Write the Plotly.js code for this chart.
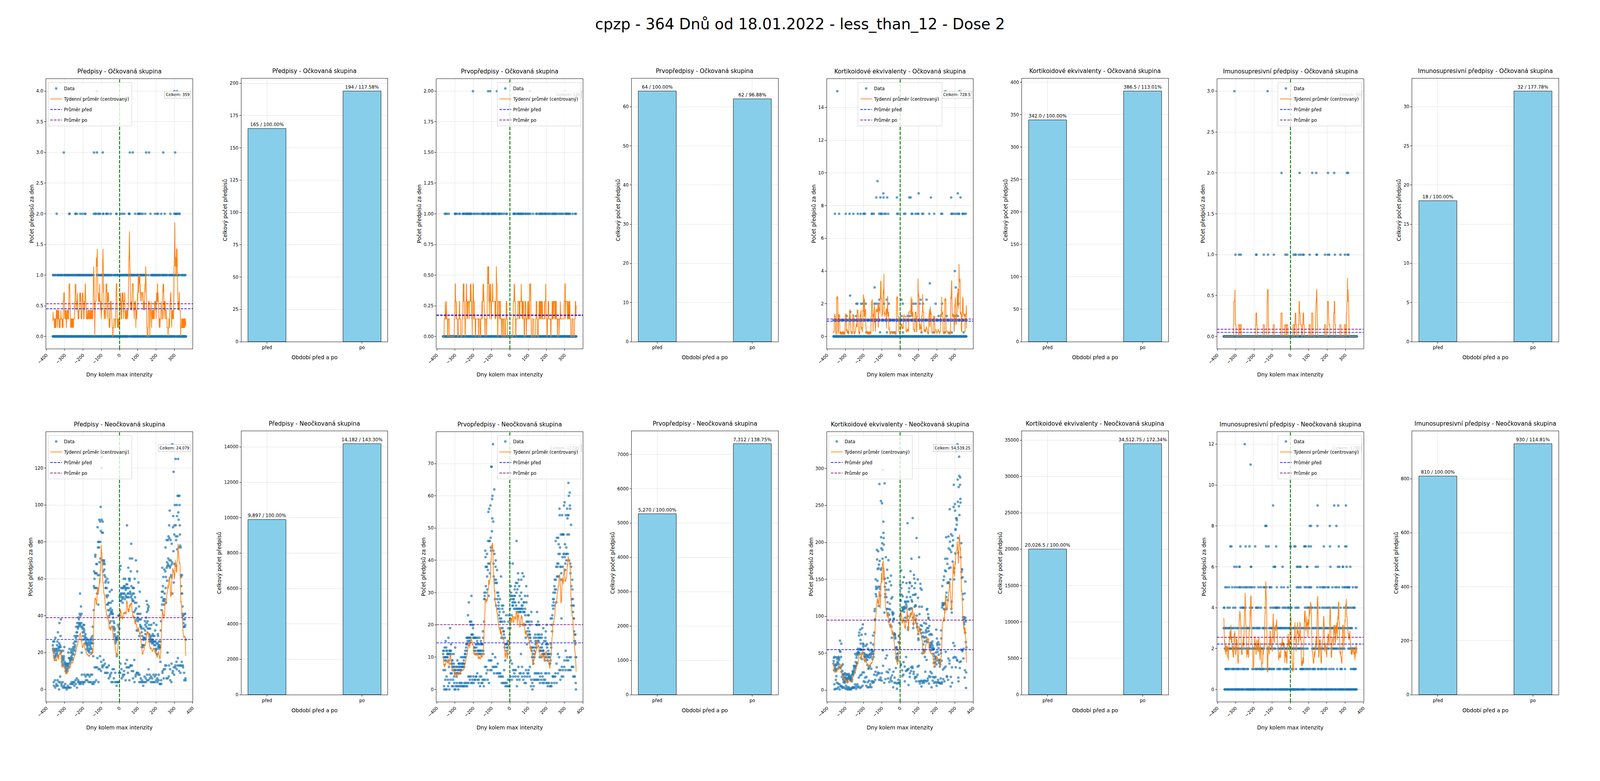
<!DOCTYPE html>
<html>
<head>
<meta charset="utf-8">
<script src="https://cdn.plot.ly/plotly-3.0.1.min.js"></script>
<style>html,body{margin:0;padding:0;background:#fff;overflow:hidden}</style>
</head>
<body>
<div id="chart"></div>
<script>
// days relative to the max intensity day; "před" = day < 0, "po" = day >= 0
const firstDay = -365;
const lastDay = 363;

const suptitle = 'cpzp - 364 Dnů od 18.01.2022 - less_than_12 - Dose 2';
const metricNames = ['Předpisy', 'Prvopředpisy', 'Kortikoidové ekvivalenty', 'Imunosupresivní předpisy'];
const groupNames = ['Očkovaná skupina', 'Neočkovaná skupina'];
const periodLabels = ['před', 'po'];

// bar totals [před, po] per metric
const vacTotals = [[165, 194], [64, 62], [342.0, 386.5], [18, 32]];
const unvacTotals = [[9897, 14182], [5270, 7312], [20026.5, 34512.75], [810, 930]];
const floatMetric = [false, false, true, false];

// vaccinated group: daily values are sparse -> value levels and the days they occur on
const rxVacLevels = [1, 2, 3, 4];
const rxVacDays = [
  [-364,-361,-357,-352,-348,-340,-336,-334,-330,-324,-321,-318,-314,-308,-302,-300,-297,-295,-291,-287,
   -285,-283,-279,-276,-272,-268,-264,-260,-256,-252,-248,-245,-239,-237,-231,-230,-227,-223,-221,-219,
   -216,-213,-210,-206,-202,-200,-198,-195,-191,-186,-184,-180,-177,-174,-170,-168,-166,-162,-159,-157,
   -154,-151,-149,-145,-143,-142,-123,-121,-119,-116,-111,-109,-104,-101,-99,-96,-94,-93,-88,-84,
   -81,-79,-77,-72,-69,-65,-62,-61,-57,-53,-49,-45,-41,-32,-28,-25,-19,-16,-12,-8,-4,
   2,4,8,11,14,17,20,22,27,29,31,35,38,40,43,45,48,50,53,55,57,59,61,63,65,67,69,71,74,76,
   78,81,84,89,93,95,97,101,103,106,111,112,114,116,119,121,123,125,128,130,132,134,136,138,141,142,144,147,159,171,
   175,179,180,184,186,188,192,196,199,201,204,208,211,213,217,221,225,231,235,238,240,243,248,252,254,256,261,269,273,277,
   280,281,285,289,291,294,297,301,303,307,310,311,317,320,323,330,338,342,347,352,357,360],
  [-344,-275,-274,-242,-240,-233,-215,-203,-190,-187,-141,-132,-130,-118,-112,-106,-90,-89,-73,-71,-63,-48,-18,-17,
   5,16,26,51,52,54,85,100,104,108,110,118,126,140,169,194,205,210,228,247,278,299,305,308,312,316,324,329],
  [-305,-140,-124,-92,56,72,145,161,239,304],
  [-125,300,314]
];

const firstVacLevels = [1, 2];
const firstVacDays = [
  [-356,-350,-344,-334,-301,-298,-296,-290,-278,-273,-258,-254,-252,-249,-240,-238,-235,-230,-227,-223,
   -219,-216,-213,-210,-198,-193,-183,-176,-167,-156,-150,-147,-144,-141,-132,-124,-121,-116,-113,-102,
   -97,-95,-92,-88,-85,-81,-77,-73,-62,-60,-55,-50,-42,-32,-20,-17,
   20,22,26,28,37,44,47,51,55,59,62,65,71,74,84,86,94,100,105,113,127,144,147,159,163,167,172,175,180,187,
   193,195,199,209,212,219,229,234,239,242,246,251,256,265,273,279,286,293,304,308,311,315,321,325,329,343,357,361],
  [-202,-119,-108,-71,111,300]
];

const kortVacLevels = [15, 9.5, 8.75, 8.5, 7.5, 4, 3.25, 3, 2.5, 2.25, 2, 1.5, 1.25, 1, 0.25];
const kortVacDays = [
  [-344,247,325],
  [-124],
  [-92,101,315],
  [-131,-108,-91,-71,-18,50,57,168,279,330],
  [-357,-334,-298,-277,-256,-232,-217,-201,-198,-192,-156,-153,-144,-115,-106,-104,-99,-86,-79,-66,-17,-11,
   21,28,62,67,84,95,100,120,126,159,186,224,230,280,283,290,301,311,319,323,341,344,351,359],
  [299],
  [162],
  [-140,304],
  [-274],
  [-114,-74,6,112,144],
  [-240,-234,-213,-203,-189,-141,-132,-119,-88,-63,14,73,85,107,125,194,229,318],
  [-273],
  [-293,-241,7,41,54,211,254,302,316],
  [-364,-360,-355,-350,-345,-340,-336,-330,-326,-320,-316,-311,-306,-301,-296,-290,-287,-282,-270,-266,
   -262,-258,-252,-248,-244,-238,-235,-229,-225,-221,-216,-211,-207,-204,-196,-190,-187,-181,-177,-173,
   -168,-164,-160,-150,-147,-138,-135,-128,-125,-120,-117,-112,-101,-96,-94,-83,-80,-76,-69,-60,
   -57,-52,-48,-45,-38,-34,-27,-22,-14,-7,-4,
   1,3,9,12,18,24,31,35,38,44,47,52,59,64,70,77,80,88,91,98,103,110,115,122,129,133,135,137,141,147,
   151,155,165,171,175,179,182,190,197,201,205,208,215,219,222,233,237,241,250,257,261,265,270,274,
   287,292,296,305,308,313,321,327,333,336,339,345,348,353,356,361,363],
  [-285,-185,-110,-72,-42,-31,15,117,184,245,282,347]
];

const imunoVacLevels = [1, 2, 3];
const imunoVacDays = [
  [-301,-281,-272,-188,-186,-146,-123,-91,-28,-18,17,26,29,46,57,69,72,105,142,145,189,204,212,243,273,298,312,317],
  [-49,50,119,141,205,239,309,315],
  [-307,-125]
];

// unvaccinated group: daily values from day -365 (Mon), one week per group of 7
const rxUnvac = [
  24,22,26,21,22,4,2, 20,26,18,21,17,5,1, 28,19,22,18,21,3,2, 22,20,24,19,26,5,2,
  31,21,18,23,22,4,0, 25,36,23,21,24,7,4, 29,23,38,20,21,3,2, 17,15,18,16,13,4,1,
  21,14,16,17,18,2,1, 23,13,15,12,14,3,1, 10,11,14,13,9,1,0, 12,14,13,10,11,2,1,
  14,20,13,17,12,1,1, 22,14,17,16,15,3,1, 16,20,17,21,18,4,3, 22,17,19,20,16,3,4,
  23,21,25,19,22,4,2, 29,23,26,24,21,5,3, 28,34,26,29,31,6,1, 31,36,29,34,33,4,5,
  39,34,36,38,35,4,3, 41,36,52,35,40,4,3, 45,34,36,41,20,8,4, 34,33,31,27,29,3,4,
  35,33,31,35,32,8,4, 29,28,25,27,30,7,5, 26,28,25,24,22,8,5, 25,23,27,21,24,8,4,
  22,26,21,25,20,7,4, 27,24,22,25,23,8,4, 26,28,22,20,25,8,3, 29,34,27,25,18,4,3,
  43,56,64,55,60,12,4, 63,72,73,63,55,12,5, 68,55,63,68,52,12,17, 88,62,77,80,46,4,11,
  80,77,92,69,62,11,18, 91,80,71,99,86,10,15, 120,92,126,85,70,13,12, 91,85,70,64,68,16,13,
  69,70,65,62,68,14,9, 61,58,55,55,59,9,12, 51,55,50,46,60,12,9, 46,51,43,58,47,6,13,
  47,40,43,36,53,7,8, 41,44,37,47,42,9,4, 54,42,43,41,48,11,4, 41,39,33,37,34,6,11,
  36,32,30,29,33,4,9, 25,27,28,26,28,4,2, 18,19,27,28,29,4,4, 35,31,40,40,34,4,9,
  33,40,50,65,48,9,14, 67,51,52,48,55,11,6, 52,50,49,55,47,7,8, 55,52,50,60,56,10,8,
  52,56,49,55,60,14,5, 54,51,55,50,57,12,16, 89,57,55,50,52,9,12, 66,52,55,50,60,12,5,
  59,60,71,53,52,13,13, 64,50,79,56,51,10,13, 71,49,48,52,55,6,10, 55,48,55,52,42,16,4,
  60,47,50,43,37,7,8, 70,44,47,38,32,9,9, 64,41,39,32,37,9,8, 58,41,38,45,29,4,8,
  53,38,35,41,34,6,4, 38,34,33,31,23,5,4, 29,24,23,24,27,2,4, 33,28,28,27,24,7,4,
  37,32,35,30,28,6,4, 39,34,48,36,42,8,5, 46,37,33,43,44,5,11, 45,33,35,30,26,8,6,
  29,33,28,27,26,4,7, 35,29,27,26,25,6,4, 27,30,26,25,29,8,4, 36,26,24,29,26,7,4,
  32,24,22,26,21,8,5, 35,25,22,19,19,6,4, 25,30,29,23,24,5,8, 26,22,24,23,23,3,3,
  23,15,26,32,37,5,3, 43,50,53,46,66,9,10, 53,56,48,61,49,6,11, 46,48,65,52,49,11,13,
  64,77,55,61,47,13,6, 81,66,69,59,67,20,6, 81,68,71,83,67,7,13, 89,82,70,97,66,11,5,
  67,81,70,61,62,4,14, 79,68,69,133,52,9,10, 88,94,75,118,58,12,8, 84,89,68,100,68,12,13,
  125,89,83,81,67,15,11, 100,94,76,83,105,13,17, 125,96,105,92,77,10,13, 105,100,89,84,78,13,9,
  77,62,61,56,52,13,15, 62,52,41,45,40,13,12, 40,36,34,38,34,9,5, 41,38,34,41,35,6,5,
  27
];

const firstUnvac = [
  11,12,6,10,12,1,0, 10,13,9,10,6,3,0, 15,10,9,13,12,4,0, 12,10,11,10,11,3,1,
  11,16,9,11,7,2,0, 12,12,11,19,12,3,5, 12,14,8,11,9,5,1, 8,7,9,6,7,3,1,
  7,11,8,6,4,2,0, 7,5,6,13,5,0,1, 6,5,7,5,4,2,1, 7,9,5,5,6,1,0,
  6,8,7,8,5,2,1, 7,6,8,5,6,2,1, 10,7,8,6,7,2,1, 8,10,7,7,8,1,1,
  8,9,10,7,8,2,1, 11,10,12,11,10,2,1, 13,14,16,14,12,2,1, 16,15,16,23,14,4,2,
  16,27,15,16,15,4,3, 21,16,21,16,20,4,2, 21,29,17,17,17,2,3, 20,20,17,19,16,4,2,
  16,12,13,16,13,3,3, 16,16,12,14,11,4,4, 13,16,14,11,15,5,3, 16,12,14,12,11,2,3,
  12,14,12,16,11,4,1, 12,11,14,12,15,4,2, 14,14,12,11,14,2,3, 14,18,16,12,11,3,1,
  21,28,30,29,28,7,3, 43,41,38,32,30,7,5, 38,38,42,35,31,6,3, 37,46,39,55,29,9,2,
  56,46,39,46,36,6,9, 57,47,44,43,69,9,6, 69,49,59,53,60,11,7, 76,52,43,39,35,7,5,
  62,42,34,33,28,10,7, 38,40,34,26,33,7,5, 33,37,30,28,25,8,5, 30,29,27,26,23,4,5,
  25,24,22,28,21,5,4, 21,19,35,22,16,4,2, 26,21,25,19,16,4,2, 26,18,24,18,17,6,2,
  21,13,16,14,9,1,2, 14,14,23,14,12,2,1, 14,13,13,11,15,3,1, 19,21,23,14,15,1,3,
  17,39,25,22,19,4,9, 32,30,28,29,23,3,8, 29,26,27,39,26,6,4, 28,28,27,25,29,5,6,
  31,29,32,27,25,4,6, 33,26,30,46,25,1,3, 33,31,24,25,36,4,7, 34,27,25,32,24,3,5,
  29,25,24,25,24,5,11, 30,34,28,26,25,7,4, 36,26,25,24,20,3,5, 35,27,27,24,24,2,4,
  29,25,23,20,16,2,6, 32,27,21,18,14,4,5, 29,21,23,19,17,5,6, 23,21,18,17,16,4,7,
  17,20,16,13,15,1,3, 24,21,12,13,10,2,0, 13,11,10,9,8,3,1, 13,16,12,10,11,5,3,
  17,15,14,16,13,5,3, 13,20,15,24,20,3,5, 17,16,21,15,15,3,5, 20,17,16,12,10,2,4,
  16,13,12,12,10,3,5, 17,16,13,14,11,2,4, 12,12,19,12,11,3,2, 15,11,11,10,9,3,5,
  16,15,18,14,10,2,5, 20,14,13,11,9,2,1, 14,11,12,11,10,2,5, 11,10,8,8,8,1,1,
  9,22,11,14,13,1,2, 20,22,18,23,26,4,4, 28,25,30,27,28,4,2, 32,26,34,31,30,4,5,
  46,34,31,38,27,8,2, 47,35,39,38,35,11,5, 47,39,42,45,35,10,6, 56,54,42,44,38,3,6,
  48,34,38,36,22,4,7, 54,48,41,48,38,6,4, 48,48,42,42,57,7,9, 58,41,45,37,39,6,12,
  54,42,44,40,42,9,10, 56,48,53,54,42,6,9, 64,54,60,48,40,6,10, 61,57,56,39,36,6,10,
  51,38,32,26,28,7,7, 34,31,26,28,24,4,7, 22,26,22,18,15,4,4, 17,15,14,17,10,2,0,
  10
];

const kortUnvac = [
  36,39.5,44,27,34,8,1, 45,28,30,33,26,2,14, 35,44.5,19,28,34,10,2, 42,38,29,37,44,9,4,
  45,35,31,40.5,43,8,1, 53,67,30,52,31,6,5, 45,63,25,33,18,5,3, 26,21.5,35,19,15,4,11,
  14,22,16,17,21,3,10, 23,12,17,13,15,2,6, 20,13,16,22,13,4,1, 11,16,21,15,17,1,4,
  22,20,19,17,15,3,1, 16,14,19,13,15,1,2, 18.5,16,12,21,14,3,4, 25,22,26,23,21,4,3,
  33,29,32,26,24,4,8, 49,32,30,38,33,2,6, 44,47,50,36,37,8,4, 50,56,52,48.5,51,5,17,
  74,78,56,50,55,3,20, 82,68,63,44,55,4,21, 75,55,42,84,50,6,24, 89,63,59,62,55,12,24,
  50,46,49,45,45,11,17, 76,60,40,47,42,6,18, 48,62,45,41,34,4,11, 56,45,47,29,30,4,13,
  48,54,44,33,32,5,8, 50,48,64,45,29,4,12, 55,53,49,52,42,10,12, 74,62,49,45,53,11,21,
  78,107,95,110,96,14,25, 150,130,140,137,127,20,31, 190,177,138,148,164,22,24, 188,140,165,114,170,14,23,
  279,175,140,137,128,14,17, 163,256,207,192,165,13,23, 253,199,190,178,298,54,33, 228,213,206,197,151,10,105,
  280,151,140,126,130,15,43, 180,145,136,126,110,25,47, 163,110,119,152,104,16,24, 176,136,110,93,102,11,28,
  147,117,109,96,88,14,17, 155,142,124,86,71,12,20, 126,106,104,102,93,4,25, 104,97,96,75,77,10,17,
  76,75,72,70,57,10,30, 58,43,45,58,49,2,9, 55,45,42,40,50,14,10, 65,73,74,91,64,10,9,
  100,130,143,122,121,35,34, 162,138,107,129,112,27,19, 108,127,146,109,111,21,38, 112,153,106,110,113,32,12,
  120,98,119,111,93,26,45, 116,145,113,126,120,27,28, 226,100,82,85,120,7,29, 133,110,138,109,146,18,23,
  145,126,161,111,103,26,31, 178,122,141,110,120,32,30, 233,98,129,84,90,22,25, 156,151,138,113,129,16,18,
  145,115,130,114,96,12,18, 206,101,90,85,86,21,32, 150,125,76,70,68,12,33, 180,113,103,82,81,9,12,
  144,138,88,82,77,13,5, 136,113,87,72,50,10,12, 78,73,62,55,52,13,10, 91,71,66,54,45,13,25,
  78,72,81,90,67,12,41, 109,84,79,110,65,13,16, 103,84,98,97,80,9,19, 87,75,58,61,60,18,25,
  64,76,58,54,64,4,23, 75,62,56,66,60,13,18, 55,57,49,37,56,10,17, 46,32,42,37,38,11,18,
  45,51,43,82,35,6,10, 70,63,61,52,40,11,14, 65,57,48,41,37,10,10, 62,41,32,38,35,9,16,
  54,50,81,70,40,9,11, 112,141,118,115,115,28,15, 117,149,116,110,154,30,12, 118,109,162,178,117,32,52,
  161,207,126,132,110,19,18, 178,171,145,122,146,14,43, 208,192,145,165,146,36,40, 245,201,190,150,166,5,18,
  211,187,110,120,105,31,10, 209,195,174,196,203,64,44, 248,278,160,150,165,60,45, 252,243,185,217,218,31,44,
  324,233,232,224,230,41,40, 333,285,255,206,186,17,12, 275,249,316,290,237,38,30, 278,288,259,254,180,39,55,
  199,160,152,164,163,54,53, 153,130,123,99,96,43,56, 99,92,89,96,131,17,27, 78,147,98,93,65,3,24,
  58
];

const imunoUnvac = [
  3,4,3,4,3,0,0, 2,5,1,2,3,0,1, 3,2,1,5,2,0,0, 4,1,3,2,1,0,0,
  3,5,2,3,4,0,1, 2,7,3,2,3,0,0, 7,3,1,2,5,0,0, 3,2,1,4,1,0,1,
  2,3,6,2,5,0,0, 4,2,1,3,2,0,0, 6,2,5,1,3,0,0, 2,1,3,1,2,0,0,
  5,6,2,6,5,0,1, 7,4,3,5,2,0,0, 2,3,1,4,2,0,0, 4,5,1,3,4,0,1,
  3,2,4,12,5,0,1, 4,7,3,5,2,0,0, 3,2,1,3,5,0,0, 1,3,2,2,3,0,0,
  5,7,3,2,4,0,0, 11,5,6,6,4,0,0, 2,4,5,1,3,0,0, 1,2,0,2,3,0,0,
  5,3,2,1,7,0,0, 2,4,1,2,3,0,1, 4,3,4,2,1,0,0, 3,5,2,3,4,0,1,
  2,1,3,2,2,0,0, 5,4,1,2,1,0,0, 2,1,3,2,1,0,0, 3,5,1,2,3,0,0,
  5,3,4,5,8,1,0, 8,7,8,3,5,0,0, 2,1,0,1,2,0,0, 7,2,1,3,1,0,0,
  5,5,3,2,4,1,0, 2,3,5,3,1,0,0, 3,2,4,3,9,0,1, 6,3,1,2,4,0,0,
  6,6,3,2,4,0,0, 7,4,4,3,5,0,1, 4,3,4,2,3,0,0, 2,1,3,1,4,0,0,
  3,2,1,2,3,0,0, 5,2,3,3,2,0,0, 6,4,2,1,3,0,0, 5,3,4,1,2,0,0,
  3,2,1,4,3,0,0, 2,1,3,2,1,0,0, 4,5,3,2,4,0,1, 3,2,4,3,2,0,0,
  2,7,7,4,3,0,0, 4,2,1,3,2,0,0, 1,2,1,0,3,0,0, 3,2,7,3,2,0,0,
  7,4,3,2,1,0,0, 3,5,6,4,2,0,0, 6,5,2,4,3,0,0, 2,5,3,6,2,0,1,
  6,5,2,1,3,0,0, 2,1,1,3,2,0,0, 1,2,3,1,2,0,0, 7,3,5,7,4,1,0,
  3,7,2,5,3,0,1, 4,6,6,3,2,1,0, 5,4,3,7,4,0,1, 3,5,8,4,5,0,1,
  4,7,8,5,4,0,0, 3,2,4,3,1,0,0, 2,1,3,2,1,0,0, 3,4,2,1,2,0,0,
  6,3,4,2,3,0,0, 2,5,8,9,6,1,0, 3,2,1,3,2,0,0, 4,3,5,2,3,0,0,
  2,1,3,1,2,0,0, 5,4,2,3,2,0,1, 5,5,7,4,3,0,0, 2,3,1,5,3,0,0,
  4,2,1,3,2,0,0, 3,4,2,5,3,0,0, 5,2,4,3,1,0,0, 8,7,4,6,3,0,0,
  3,2,1,3,2,0,0, 5,3,4,3,2,0,1, 3,4,2,9,3,0,0, 2,3,5,4,2,0,0,
  3,8,2,5,3,1,0, 4,2,6,3,9,0,0, 7,5,3,6,2,0,0, 3,2,1,4,3,0,0,
  1,2,1,3,2,0,0, 5,6,6,3,2,0,0, 4,3,2,5,3,0,1, 7,5,3,4,9,0,0,
  7,6,5,4,3,0,0, 5,5,4,3,2,0,0, 5,3,5,2,4,0,0, 6,3,2,1,3,0,0,
  4,2,3,2,1,0,0, 5,2,4,1,2,0,0, 4,1,4,2,1,0,0, 2,5,1,3,2,0,0,
  5
];

// ---- helpers ----
const days = [];
for (let d = firstDay; d <= lastDay; d++) days.push(d);
const nBefore = days.filter(d => d < 0).length;
const nAfter = days.length - nBefore;

function fromLevels(levels, dayLists) {
  const v = days.map(() => 0);
  levels.forEach((lv, i) => dayLists[i].forEach(d => { v[d - firstDay] += lv; }));
  return v;
}

// centred 7-day mean, shorter window at the edges
function rolling7(v) {
  return v.map((_, i) => {
    let s = 0, n = 0;
    for (let j = i - 3; j <= i + 3; j++) {
      if (j >= 0 && j < v.length) { s += v[j]; n++; }
    }
    return s / n;
  });
}

function fmtValue(v, isFloat) {
  let dec = '';
  let n = v;
  if (isFloat) {
    const str = String(v);
    dec = str.includes('.') ? str.slice(str.indexOf('.')) : '.0';
    n = Math.trunc(v);
  }
  return String(n).replace(/\B(?=(\d{3})+(?!\d))/g, ',') + dec;
}

const series = [
  [fromLevels(rxVacLevels, rxVacDays), fromLevels(firstVacLevels, firstVacDays),
   fromLevels(kortVacLevels, kortVacDays), fromLevels(imunoVacLevels, imunoVacDays)],
  [rxUnvac, firstUnvac, kortUnvac, imunoUnvac]
];
const totals = [vacTotals, unvacTotals];

// ---- page size: design is 8000x2000, stretched to fill the window ----
const D_W = 8000, D_H = 2000;
const W = window.innerWidth || D_W;
const H = window.innerHeight || D_H;
const sx = W / D_W, sy = H / D_H;
const sf = Math.sqrt(sx * sy);
const px = v => v * sf;
const chartDiv = document.getElementById('chart');
chartDiv.style.width = W + 'px';
chartDiv.style.height = H + 'px';

// geometry in design pixels
const colLeft = [231, 1206.5, 2182.5, 3158, 4134, 5109.5, 6085.5, 7061];
const panelW = 732;
const scatterBox = [[202, 893], [1106, 1797]];
const barBox = [[201, 875], [1104, 1779]];
const legendSide = [['left', 'right', 'center', 'right'], ['left', 'right', 'left', 'right']];
const yStep = [[0.5, 0.25, 2, 0.5], [20, 10, 50, 2]];
const yFmt = [['.1f', '.2f', 'd', '.1f'], ['d', 'd', 'd', 'd']];
const barStep = [[25, 10, 50, 5], [2000, 1000, 5000, 200]];
const xRanges = [[-401.4, 399.4], [-401.4, 400.3]];

const font = 'DejaVu Sans, Arial, sans-serif';
const gridColor = 'rgba(170,170,170,0.35)';

const traces = [];
const layout = {
  width: W, height: H,
  margin: {l: 0, r: 0, t: 0, b: 0, pad: 0},
  paper_bgcolor: '#fff', plot_bgcolor: '#fff',
  font: {family: font, color: '#000', size: px(16)},
  hovermode: false,
  title: {text: suptitle, x: 0.5, xanchor: 'center', y: 1 - 61 / D_H, yanchor: 'middle',
          font: {size: px(54), family: font, color: '#000'}},
  annotations: [], shapes: []
};

function axisBase(domain) {
  return {
    domain: domain, showgrid: true, gridcolor: gridColor, gridwidth: px(1.3),
    showline: true, mirror: true, linecolor: '#000', linewidth: px(1.3),
    ticks: 'outside', ticklen: px(6), tickwidth: px(1.3), tickcolor: '#000',
    tickfont: {size: px(16), family: font}, zeroline: false
  };
}

for (let r = 0; r < 2; r++) {
  for (let m = 0; m < 4; m++) {
    const vals = series[r][m];
    const [tb, ta] = totals[r][m];
    const isF = floatMetric[m];
    const title = metricNames[m] + ' - ' + groupNames[r];

    // ---------- scatter panel ----------
    const cS = 2 * m;
    const k = r * 8 + cS + 1;
    const xa = k === 1 ? 'x' : 'x' + k;
    const ya = k === 1 ? 'y' : 'y' + k;
    const left = colLeft[cS];
    const [top, bot] = scatterBox[r];
    const xDom = [left / D_W, (left + panelW) / D_W];
    const yDom = [1 - bot / D_H, 1 - top / D_H];
    const lg = r * 4 + m + 1;
    const lgName = lg === 1 ? 'legend' : 'legend' + lg;

    const vMin = Math.min(...vals), vMax = Math.max(...vals);
    const pad = (vMax - vMin) * 0.05;
    const xr = xRanges[r];

    traces.push({
      x: days, y: vals, xaxis: xa, yaxis: ya, type: 'scatter', mode: 'markers',
      name: 'Data', legend: lgName, legendgroup: lgName + 'a',
      marker: {color: '#1f77b4', opacity: 0.7, size: px(9), line: {width: 0}}
    });
    traces.push({
      x: days, y: rolling7(vals), xaxis: xa, yaxis: ya, type: 'scatter', mode: 'lines',
      name: 'Týdenní průměr (centrovaný)', legend: lgName, legendgroup: lgName + 'b',
      line: {color: '#ff7f0e', width: px(2.5)}
    });
    const mb = tb / nBefore, ma = ta / nAfter;
    const meanDash = px(9) + 'px,' + px(4) + 'px';
    traces.push({
      x: xr, y: [mb, mb], xaxis: xa, yaxis: ya, type: 'scatter', mode: 'lines',
      name: 'Průměr před', legend: lgName, legendgroup: lgName + 'c',
      line: {color: 'blue', width: px(2.3), dash: meanDash}
    });
    traces.push({
      x: xr, y: [ma, ma], xaxis: xa, yaxis: ya, type: 'scatter', mode: 'lines',
      name: 'Průměr po', legend: lgName, legendgroup: lgName + 'd',
      line: {color: 'purple', width: px(2.3), dash: meanDash}
    });

    layout['xaxis' + (k === 1 ? '' : k)] = Object.assign(axisBase(xDom), {
      anchor: ya, range: xr, dtick: 100, tick0: 0, tickangle: -45,
      title: {text: 'Dny kolem max intenzity', font: {size: px(19), family: font}, standoff: 20 * sy}
    });
    layout['yaxis' + (k === 1 ? '' : k)] = Object.assign(axisBase(yDom), {
      anchor: xa, range: [vMin - pad, vMax + pad], dtick: yStep[r][m], tick0: 0,
      tickformat: yFmt[r][m],
      title: {text: 'Počet předpisů za den', font: {size: px(19), family: font}, standoff: 4 * sx}
    });

    layout.shapes.push({
      type: 'line', xref: xa, yref: ya + ' domain', x0: 0, x1: 0, y0: 0, y1: 1,
      line: {color: 'green', width: px(3.3), dash: px(12) + 'px,' + px(5) + 'px'}, layer: 'above'
    });

    const side = legendSide[r][m];
    const lx = side === 'left' ? xDom[0] + 9 / D_W : side === 'right' ? xDom[1] - 9 / D_W : (xDom[0] + xDom[1]) / 2;
    layout[lgName] = {
      x: lx, xanchor: side, y: yDom[1] - 9 / D_H, yanchor: 'top',
      bgcolor: 'rgba(255,255,255,0.8)', bordercolor: '#cccccc', borderwidth: px(1.3),
      font: {size: px(16), family: font}, itemwidth: 30,
      traceorder: 'grouped', tracegroupgap: 8 * sy
    };

    layout.annotations.push({
      xref: 'paper', yref: 'paper', x: (xDom[0] + xDom[1]) / 2, y: yDom[1] + 8 / D_H,
      xanchor: 'center', yanchor: 'bottom', showarrow: false, text: title,
      font: {size: px(21), family: font}
    });
    layout.annotations.push({
      xref: 'paper', yref: 'paper', x: xDom[1] - 7 / D_W, y: yDom[1] - 41 / D_H,
      xanchor: 'right', yanchor: 'middle', showarrow: false,
      text: 'Celkem: ' + fmtValue(tb + ta, isF),
      font: {size: px(13.5), family: font},
      bgcolor: 'rgba(255,255,255,0.8)', bordercolor: '#bbbbbb', borderwidth: px(1.3), borderpad: px(4)
    });

    // ---------- bar panel ----------
    const cB = 2 * m + 1;
    const kb = r * 8 + cB + 1;
    const xb = 'x' + kb, yb = 'y' + kb;
    const leftB = colLeft[cB];
    const [topB, botB] = barBox[r];
    const xDomB = [leftB / D_W, (leftB + panelW) / D_W];
    const yDomB = [1 - botB / D_H, 1 - topB / D_H];
    const vals2 = totals[r][m];

    traces.push({
      x: [0, 1], y: vals2, xaxis: xb, yaxis: yb, type: 'bar', width: 0.4,
      showlegend: false,
      marker: {color: 'skyblue', line: {color: '#000', width: px(1.3)}},
      text: vals2.map(v => fmtValue(v, isF) + ' / ' + (v / vals2[0] * 100).toFixed(2) + '%'),
      textposition: 'outside', cliponaxis: false, constraintext: 'none',
      textfont: {size: px(16.5), color: '#000', family: font}
    });

    layout['xaxis' + kb] = Object.assign(axisBase(xDomB), {
      anchor: yb, range: [-0.27, 1.27], tickvals: [0, 1], ticktext: periodLabels,
      title: {text: 'Období před a po', font: {size: px(19), family: font}, standoff: 14 * sy}
    });
    layout['yaxis' + kb] = Object.assign(axisBase(yDomB), {
      anchor: xb, range: [0, Math.max(...vals2) * 1.05], dtick: barStep[r][m], tick0: 0,
      tickformat: 'd',
      title: {text: 'Celkový počet předpisů', font: {size: px(19), family: font}, standoff: 6 * sx}
    });
    layout.annotations.push({
      xref: 'paper', yref: 'paper', x: (xDomB[0] + xDomB[1]) / 2, y: yDomB[1] + 8 / D_H,
      xanchor: 'center', yanchor: 'bottom', showarrow: false, text: title,
      font: {size: px(21), family: font}
    });
  }
}

Plotly.newPlot('chart', traces, layout, {staticPlot: true, displayModeBar: false}).then(gd => {
  // legends sit above the "Celkem" boxes, as in the original figure
  const info = gd.querySelector('.infolayer');
  if (!info) return;
  Array.from(info.children)
    .filter(n => /^legend\d*$/.test(n.getAttribute('class') || ''))
    .forEach(n => info.appendChild(n));
});
</script>
</body>
</html>
